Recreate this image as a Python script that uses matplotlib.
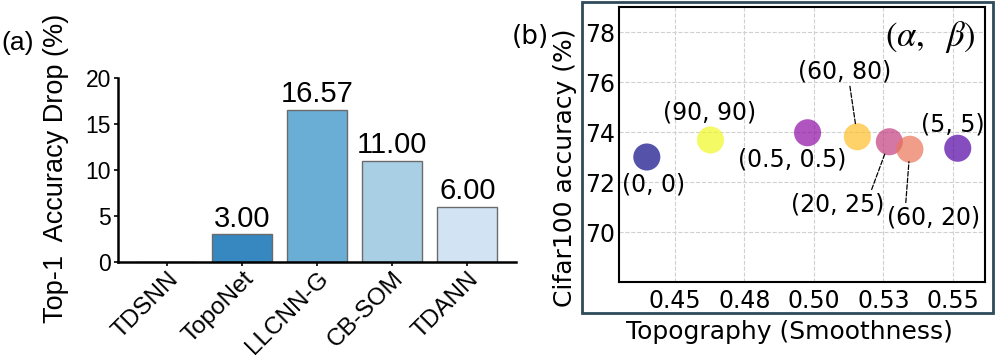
import matplotlib
matplotlib.use("Agg")
import matplotlib.pyplot as plt
from matplotlib.patches import Rectangle
import numpy as np

plt.rcParams['mathtext.fontset'] = 'stix'
FA = ['Liberation Sans', 'DejaVu Sans']
FB = ['DejaVu Sans']

# ---- data (a) ----
methods = ["TDSNN", "TopoNet", "LLCNN-G", "CB-SOM", "TDANN"]
drops = [0.0, 3.00, 16.57, 11.00, 6.00]
bar_colors = ["#08519c", "#3787c0", "#6aaed6", "#a9cfe5", "#d2e3f3"]
bar_labels = [None, "3.00", "16.57", "11.00", "6.00"]

# ---- data (b) ----
pt_labels = ["(0, 0)", "(90, 90)", "(0.5, 0.5)", "(60, 80)", "(20, 25)", "(60, 20)", "(5, 5)"]
smooth = [0.4399, 0.4628, 0.4977, 0.5156, 0.5271, 0.5345, 0.5517]
acc = [73.00, 73.68, 73.97, 73.81, 73.61, 73.31, 73.35]
cvals = [0.0, 1.0, 0.30, 0.86, 0.47, 0.65, 0.14]
xticks_b = [0.450, 0.475, 0.500, 0.525, 0.550]
xtick_labels_b = ["0.45", "0.48", "0.50", "0.53", "0.55"]
yticks_b = [70, 72, 74, 76, 78]

fig = plt.figure(figsize=(9.96, 3.57), dpi=100)

# ---------------- panel (a) ----------------
axa = fig.add_axes([118/996, 1-262/357, (516-118)/996, (262-78)/357])
xpos = np.arange(len(methods))
bars = axa.bar(xpos, drops, width=0.8, color=bar_colors, edgecolor="#6b6b6b", linewidth=1)
for b, lab in zip(bars, bar_labels):
    if lab:
        axa.text(b.get_x()+b.get_width()/2, b.get_height()+0.15, lab,
                 ha='center', va='bottom', fontsize=21, family=FA)
axa.set_xlim(-0.66, 4.65)
axa.set_ylim(0, 20)
axa.set_yticks([0, 5, 10, 15, 20])
axa.set_xticks(xpos)
axa.set_xticklabels(methods, rotation=45, ha='right', rotation_mode='anchor',
                    fontsize=17.5, family=FA)
for t in axa.get_yticklabels():
    t.set_family(FA)
axa.tick_params(axis='y', labelsize=16.5, length=3, width=1.2, pad=2)
axa.tick_params(axis='x', length=3, width=1.2, pad=1)
for s in ['top', 'right']:
    axa.spines[s].set_visible(False)
for s in ['left', 'bottom']:
    axa.spines[s].set_linewidth(1.8)
axa.set_ylabel("Top-1  Accuracy Drop (%)", fontsize=19.5, family=FA)
axa.yaxis.set_label_coords(-0.124, 0.51)
fig.text(18/996, 1-43/357, "(a)", fontsize=19, ha='center', va='center', family=FA)

# ---------------- panel (b) ----------------
fig.patches.append(Rectangle((582/996, 1-313/357), (993-582)/996, (313-2)/357,
                             transform=fig.transFigure, fill=False,
                             edgecolor="#2f4b5b", linewidth=2))
axb = fig.add_axes([619/996, 1-282/357, (985-619)/996, (282-7)/357])
cmap = plt.get_cmap('plasma')
axb.scatter(smooth, acc, s=380, c=[cmap(v) for v in cvals], alpha=0.7,
            edgecolors='none', zorder=3)
axb.set_xlim(0.4299, 0.5615)
axb.set_ylim(68, 79)
axb.set_xticks(xticks_b)
axb.set_xticklabels(xtick_labels_b)
axb.set_yticks(yticks_b)
for t in axb.get_xticklabels() + axb.get_yticklabels():
    t.set_family(FB)
axb.grid(True, linestyle='--', color='#d0d0d0', linewidth=0.8)
axb.set_axisbelow(True)
axb.tick_params(labelsize=17, length=0)
axb.tick_params(axis='x', pad=5)
axb.tick_params(axis='y', pad=3)
for s in axb.spines.values():
    s.set_linewidth(1.5)
    s.set_color('black')

offsets = [(5, -20), (-1, 20), (-11, -19), (-9, 47), (-37, -45), (17, -49), (-3.5, 17)]
leaders = [False, False, False, True, True, True, False]
relpos = [None, None, None, (0.55, 0.0), (0.85, 1.0), (0.2, 1.0), None]
for lab, x, y, off, ld, rp in zip(pt_labels, smooth, acc, offsets, leaders, relpos):
    kw = {}
    if ld:
        kw['arrowprops'] = dict(arrowstyle='-', linestyle='--', color='black',
                                linewidth=0.9, shrinkA=0, shrinkB=9, relpos=rp)
    axb.annotate(lab, (x, y), xytext=off, textcoords='offset points',
                 ha='center', va='center', fontsize=17, family=FB, zorder=4, **kw)

axb.text(0.85, 0.89, r"$(\alpha,\ \ \beta)$", transform=axb.transAxes,
         fontsize=25, ha='center', va='center')
axb.set_ylabel("Cifar100 accuracy (%)", fontsize=18, family=FB)
axb.yaxis.set_label_coords(-0.115, 0.416)
axb.set_xlabel("Topography (Smoothness)", fontsize=18, family=FB)
axb.xaxis.set_label_coords(0.467, -0.14)
fig.text(530/996, 1-37/357, "(b)", fontsize=19, ha='center', va='center', family=FB)

fig.savefig("out.png", dpi=100)
